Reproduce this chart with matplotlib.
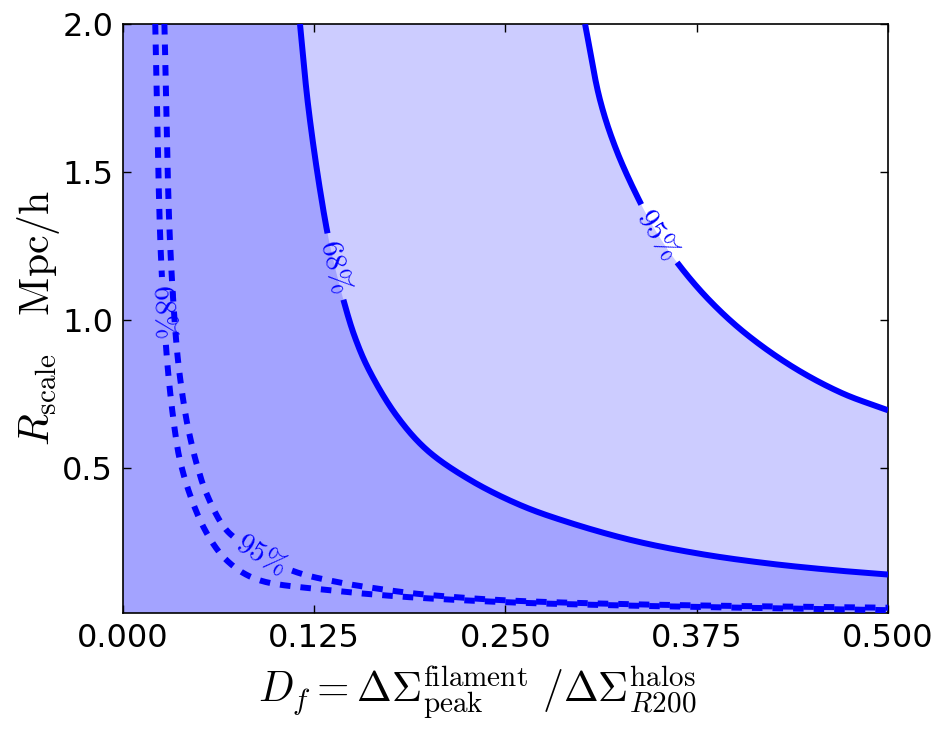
import numpy as np
import matplotlib
matplotlib.use("Agg")
import matplotlib.pyplot as plt

plt.rcParams["mathtext.fontset"] = "cm"
plt.rcParams["lines.scale_dashes"] = False

# Contours in the (D_f, R_scale) plane.
# Solid: joint constraint; dashed: alternative constraint.
solid68_d = [0.1157, 0.1210, 0.1285, 0.1354, 0.1450, 0.1518, 0.1608, 0.1785,
             0.1986, 0.2267, 0.2595, 0.2902, 0.3333, 0.3771, 0.4209, 0.4641, 0.5000]
solid68_r = [2.000, 1.726, 1.449, 1.250, 1.051, 0.939, 0.831, 0.679,
             0.561, 0.460, 0.375, 0.318, 0.255, 0.210, 0.178, 0.155, 0.140]

solid95_d = [0.3020, 0.3118, 0.3225, 0.3373, 0.3490, 0.3634, 0.3830, 0.4065,
             0.4379, 0.4699, 0.5000]
solid95_r = [2.000, 1.743, 1.574, 1.405, 1.294, 1.186, 1.068, 0.956,
             0.841, 0.753, 0.695]

dashed68_d = [0.0211, 0.0244, 0.0267, 0.0287, 0.0314, 0.0351, 0.0372, 0.0427,
              0.0513, 0.0604, 0.0676, 0.0787, 0.0924, 0.1331, 0.1680, 0.2007,
              0.2549, 0.3118, 0.3771, 0.4425, 0.5000]
dashed68_r = [2.000, 1.270, 1.034, 0.872, 0.730, 0.585, 0.527, 0.426,
              0.314, 0.233, 0.189, 0.145, 0.116, 0.0878, 0.0709, 0.0591,
              0.0456, 0.0372, 0.0304, 0.0247, 0.0196]

dashed95_d = [0.0271, 0.0307, 0.0353, 0.0384, 0.0419, 0.0458, 0.0480, 0.0544,
              0.0675, 0.0830, 0.0993, 0.1157, 0.1418, 0.1634, 0.1876, 0.2118,
              0.2418, 0.2725, 0.3248, 0.3771, 0.4425, 0.5000]
dashed95_r = [2.000, 1.270, 0.899, 0.764, 0.652, 0.561, 0.517, 0.416,
              0.291, 0.230, 0.179, 0.144, 0.113, 0.0946, 0.0777, 0.0659,
              0.0551, 0.0480, 0.0405, 0.0355, 0.0311, 0.0280]

# Where each contour label sits (R_scale value along the curve)
label_text = ["68%", "95%", "68%", "95%"]
label_r = [1.18, 1.29, 1.03, 0.205]

x_ticks = [0.0, 0.125, 0.25, 0.375, 0.5]
y_ticks = [0.5, 1.0, 1.5, 2.0]
x_lim = (0.0, 0.5)
y_lim = (0.01, 2.0)

fig = plt.figure(figsize=(9.48, 7.31), dpi=100)
ax = fig.add_axes([0.1297, 0.1614, 0.8070, 0.8058])
ax.set_xlim(*x_lim)
ax.set_ylim(*y_lim)
ax.set_autoscale_on(False)
fig.canvas.draw()
renderer = fig.canvas.get_renderer()


def _cr_segment(p0, p1, p2, p3, n):
    """Centripetal Catmull-Rom segment between p1 and p2."""
    def step(ti, a, b):
        return ti + max(np.hypot(*(b - a)), 1e-9) ** 0.5
    t0 = 0.0
    t1 = step(t0, p0, p1)
    t2 = step(t1, p1, p2)
    t3 = step(t2, p2, p3)
    t = np.linspace(t1, t2, n, endpoint=False)[:, None]
    a1 = (t1 - t) / (t1 - t0) * p0 + (t - t0) / (t1 - t0) * p1
    a2 = (t2 - t) / (t2 - t1) * p1 + (t - t1) / (t2 - t1) * p2
    a3 = (t3 - t) / (t3 - t2) * p2 + (t - t2) / (t3 - t2) * p3
    b1 = (t2 - t) / (t2 - t0) * a1 + (t - t0) / (t2 - t0) * a2
    b2 = (t3 - t) / (t3 - t1) * a2 + (t - t1) / (t3 - t1) * a3
    return (t2 - t) / (t2 - t1) * b1 + (t - t1) / (t2 - t1) * b2


def smooth_path(d, r, step_px=0.5):
    """Smooth pixel-space path through the contour points."""
    p = ax.transData.transform(np.column_stack([d, r]))
    ext = np.vstack([2 * p[0] - p[1], p, 2 * p[-1] - p[-2]])
    parts = []
    for k in range(len(p) - 1):
        n = max(int(np.hypot(*(p[k + 1] - p[k])) / step_px), 2)
        parts.append(_cr_segment(ext[k], ext[k + 1], ext[k + 2], ext[k + 3], n))
    parts.append(p[-1:])
    return np.vstack(parts)


curves = {
    "s68": smooth_path(solid68_d, solid68_r),
    "s95": smooth_path(solid95_d, solid95_r),
    "d68": smooth_path(dashed68_d, dashed68_r),
    "d95": smooth_path(dashed95_d, dashed95_r),
}
inv = ax.transData.inverted()

# Confidence regions: two translucent layers, darker where they overlap
for key in ["s95", "s68"]:
    cd = inv.transform(curves[key])
    xs = np.concatenate([[x_lim[0]], cd[:, 0], [cd[-1, 0], x_lim[0]]])
    ys = np.concatenate([[cd[0, 1]], cd[:, 1], [0.0, 0.0]])
    ax.fill(xs, ys, color="blue", alpha=0.2, lw=0, zorder=1)


def labelled_contour(dense, text, r_at, style, fontsize=21, pad=7):
    seg = np.hypot(*np.diff(dense, axis=0).T)
    s = np.concatenate([[0.0], np.cumsum(seg)])
    y_pix = ax.transData.transform((0.0, r_at))[1]
    i = int(np.argmin(np.abs(dense[:, 1] - y_pix)))
    j0 = int(np.searchsorted(s, s[i] - 6))
    j1 = min(int(np.searchsorted(s, s[i] + 6)), len(dense) - 1)
    dx, dy = dense[j1] - dense[j0]
    ang = np.degrees(np.arctan2(dy, dx))
    if ang > 90:
        ang -= 180
    elif ang < -90:
        ang += 180
    cx, cy = inv.transform(dense[i])
    t = ax.text(cx, cy, "$" + text.replace("%", r"\%") + "$", color="blue",
                fontsize=fontsize, ha="center", va="center", zorder=4)
    w = t.get_window_extent(renderer).width
    t.set_rotation(ang)
    t.set_rotation_mode("anchor")
    keep = np.abs(s - s[i]) > w / 2 + pad
    line = dense.copy()
    line[~keep] = np.nan
    data = inv.transform(line)
    ax.plot(data[:, 0], data[:, 1], color="blue", lw=4.3,
            solid_capstyle="butt", dash_capstyle="butt", zorder=3, **style)


solid = dict(linestyle="-")
dashed = dict(linestyle=(0, (7.6, 7.2)))
labelled_contour(curves["s68"], label_text[0], label_r[0], solid)
labelled_contour(curves["s95"], label_text[1], label_r[1], solid)
labelled_contour(curves["d68"], label_text[2], label_r[2], dashed)
labelled_contour(curves["d95"], label_text[3], label_r[3], dashed)

ax.set_xticks(x_ticks)
ax.set_xticklabels(["%.3f" % v for v in x_ticks])
ax.set_yticks(y_ticks)
ax.set_yticklabels(["%.1f" % v for v in y_ticks])
ax.tick_params(direction="in", top=True, right=True, length=6, width=1,
               labelsize=23, pad=7)
for sp in ax.spines.values():
    sp.set_linewidth(1.2)

ax.set_xlabel(r"$D_f = \Delta\Sigma^{\rm filament}_{\rm peak}\ /\Delta\Sigma^{\rm halos}_{R200}$",
              fontsize=30)
ax.xaxis.set_label_coords(0.463, -0.085)
ax.set_ylabel(r"$R_{\rm scale}\quad{\rm Mpc/h}$", fontsize=30)
ax.yaxis.set_label_coords(-0.080, 0.5)

fig.savefig("out.png", dpi=100)
